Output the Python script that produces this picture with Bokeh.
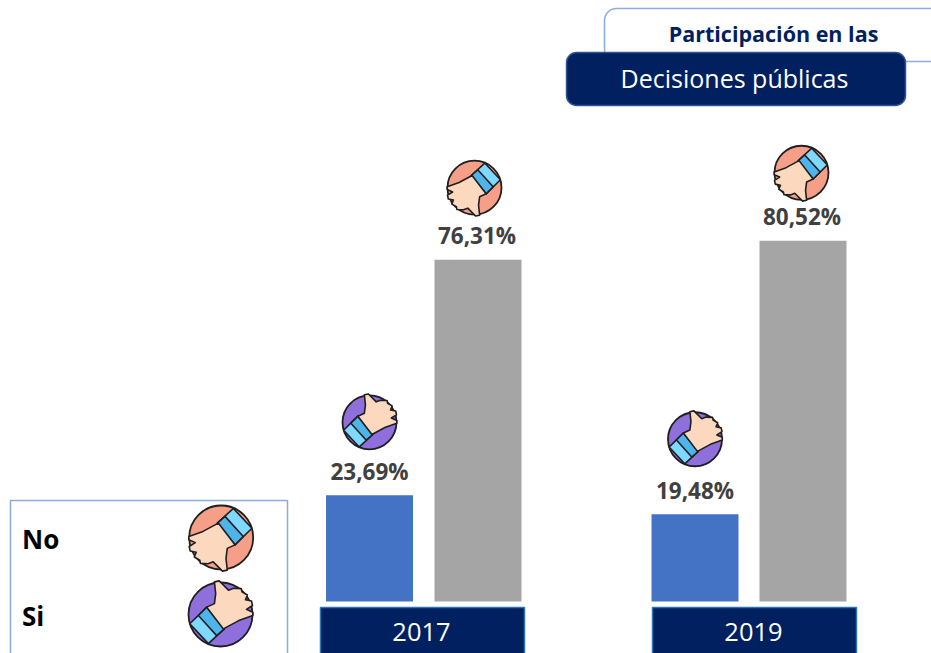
import numpy as np
from bokeh.plotting import figure
from bokeh.models import BoxAnnotation, Range1d
from bokeh.core.properties import value
from bokeh.embed import file_html
from bokeh.resources import INLINE

years = ["2017", "2019"]
si_values = [23.69, 19.48]
no_values = [76.31, 80.52]
si_labels = ["23,69%", "19,48%"]
no_labels = ["76,31%", "80,52%"]
title_top = "Participación en las"
title_main = "Decisiones públicas"
legend_names = ["No", "Si"]

# layout (screen pixels of the photographed page)
OX, OY = 0, 0
W, H = 931, 653
BASE = 601.0
PX_PER_PCT = 4.48
si_x = [369.0, 694.5]
no_x = [477.5, 802.5]
tab_centers = [422.0, 754.0]
bar_w = 87

def Y(py):
    return (BASE - py) / PX_PER_PCT

p = figure(width=W, height=H, output_backend="svg", toolbar_location=None,
           x_range=Range1d(OX, OX + W), y_range=Range1d(Y(OY + H), Y(OY)),
           x_axis_location=None, y_axis_location=None, min_border=0,
           outline_line_color=None, background_fill_color="white")
p.grid.visible = False

def box(l, r, t, b, fill, line, radius=0, width=1.5):
    p.add_layout(BoxAnnotation(left=l, right=r, top=Y(t), bottom=Y(b),
                               fill_color=fill, fill_alpha=1, line_color=line,
                               line_alpha=1, line_width=width, border_radius=radius,
                               level="underlay"))

# header
box(604, 960, 8, 61, "white", "#8FAADC", 12)
box(566, 905, 52, 105, "#002060", "#2F5597", 10)
# legend frame
box(10, 287, 500, 680, "white", "#8FAADC", 0)
# year tabs
for c in tab_centers:
    box(c - 102, c + 102, 607, 680, "#002060", "#2E75B6", 0)

FONT = value("Open Sans")
def txt(x, py, s, size, color, style="normal", align="center"):
    p.text([x], [Y(py)], text=[s], text_font=FONT, text_font_size=f"{size}px",
           text_color=color, text_font_style=style, text_align=align,
           text_baseline="middle")

# bars
p.vbar(x=si_x, top=si_values, bottom=0, width=bar_w, fill_color="#4472C4", line_color=None)
p.vbar(x=no_x, top=no_values, bottom=0, width=bar_w, fill_color="#A5A5A5", line_color=None)

# thumb icon outlines, unit circle, y pointing down the screen, "thumb down" pose
hand_x = [-0.09, -0.57, -1.01, -1.01, -0.81, -1.00, -0.97, -0.78, -0.84, -0.67, -0.65, -0.41, -0.25, 0.04, 0.19, 0.15, 0.19, 0.43]
hand_y = [-0.45, -0.19, -0.03, 0.07, 0.16, 0.28, 0.42, 0.46, 0.61, 0.71, 0.81, 0.82, 0.76, 1.05, 1.02, 0.65, 0.34, 0.23]
cuff_x = [-0.12, 0.38, 0.96, 0.43]
cuff_y = [-0.45, -0.91, -0.29, 0.23]
band_x = [-0.12, 0.12, 0.69, 0.43]
band_y = [-0.45, -0.66, -0.03, 0.23]

def icon(cx, cy, R, up):
    s = -1 if up else 1
    p.scatter([cx], [Y(cy)], size=2 * R, marker="circle",
              fill_color="#8E6FDB" if up else "#F59F88", line_color="#1F1F1F", line_width=1.8)
    def poly(xs, ys, fill):
        p.patch([cx + s * R * a for a in xs], [Y(cy + s * R * b) for b in ys],
                fill_color=fill, line_color="#1F1F1F", line_width=1.6, line_join="round")
    poly(cuff_x, cuff_y, "#7FD8FF")
    poly(band_x, band_y, "#4FB4EA")
    poly(hand_x, hand_y, "#FCD8BE")

# chart labels and icons
icon_lift_si = [73, 75]
icon_lift_no = [72, 68]
icon_shift_no = [-3.5, -1.5]
for i in range(2):
    top_si = BASE - si_values[i] * PX_PER_PCT
    top_no = BASE - no_values[i] * PX_PER_PCT
    txt(si_x[i], top_si - 24, si_labels[i], 22.5, "#404040", "bold")
    txt(no_x[i] - 1, top_no - 24, no_labels[i], 22.5, "#404040", "bold")
    icon(si_x[i], top_si - icon_lift_si[i], 27, True)
    icon(no_x[i] + icon_shift_no[i], top_no - icon_lift_no[i], 27, False)
    txt(tab_centers[i] - 1, 631, years[i], 25.5, "#FFFFFF")

# header text
txt(773, 33, title_top, 21.5, "#002060", "bold")
txt(734, 77, title_main, 25, "#FFFFFF")

# legend
txt(21.5, 538, legend_names[0], 26, "#000000", "bold", "left")
txt(21.5, 615, legend_names[1], 26, "#000000", "bold", "left")
icon(220.7, 537, 32, False)
icon(220, 614, 32, True)

open("out.html", "w").write(file_html(p, INLINE))
